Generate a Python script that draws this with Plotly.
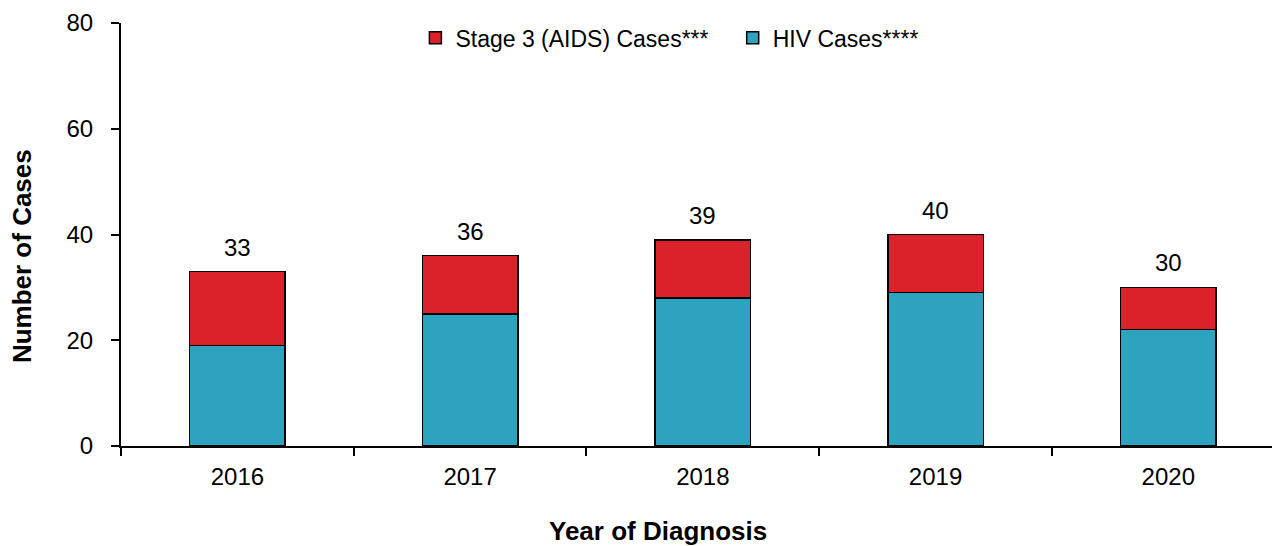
import plotly.graph_objects as go

years = ["2016", "2017", "2018", "2019", "2020"]
hiv_cases = [19, 25, 28, 29, 22]
aids_cases = [14, 11, 11, 11, 8]
totals = [33, 36, 39, 40, 30]

red = "#DB2129"
teal = "#2EA3BF"
font = "Liberation Sans, Arial, sans-serif"

fig = go.Figure()
fig.add_trace(go.Bar(x=years, y=hiv_cases, name="HIV Cases****", width=0.41,
                     marker=dict(color=teal, line=dict(color="black", width=1.5))))
fig.add_trace(go.Bar(x=years, y=aids_cases, name="Stage 3 (AIDS) Cases***   ", width=0.41,
                     marker=dict(color=red, line=dict(color="black", width=1.5))))

label_annotations = [
    dict(x=i, y=tot, xref="x", yref="y", text=str(tot), showarrow=False,
         xanchor="center", yanchor="bottom", yshift=9, font=dict(size=24))
    for i, tot in enumerate(totals)
]

fig.update_layout(
    barmode="stack",
    width=1280, height=546,
    margin=dict(l=113, r=8, t=15, b=108, autoexpand=False),
    paper_bgcolor="white", plot_bgcolor="white",
    font=dict(family=font, size=24, color="black"),
    legend=dict(orientation="h", x=0.4736, xanchor="center", y=0.965, yanchor="middle",
                traceorder="reversed", font=dict(size=23), itemwidth=30,
                bgcolor="rgba(0,0,0,0)"),
    showlegend=True,
    annotations=label_annotations + [
        dict(text="<b>Year of Diagnosis</b>", xref="paper", yref="paper", x=0.463, y=-0.2,
             xanchor="center", yanchor="middle", showarrow=False, font=dict(size=26)),
        dict(text="<b>Number of Cases</b>", xref="paper", yref="paper", x=-0.0854, y=0.449,
             xanchor="center", yanchor="middle", textangle=-90, showarrow=False,
             font=dict(size=26)),
    ],
)
fig.update_xaxes(type="category", range=[-0.5, 4.48], showline=True, linecolor="black",
                 linewidth=2, ticks="outside", tickson="boundaries", ticklen=8, tickwidth=2,
                 tickcolor="black", tickfont=dict(size=24), automargin=False,
                 ticklabelstandoff=8)
fig.update_yaxes(range=[0, 80], tickvals=[0, 20, 40, 60, 80], showline=True, linecolor="black",
                 linewidth=2, ticks="outside", ticklen=8, tickwidth=2, tickcolor="black",
                 showgrid=False, zeroline=False, tickfont=dict(size=24), automargin=False,
                 ticklabelstandoff=13)

fig.write_html("out.html")
